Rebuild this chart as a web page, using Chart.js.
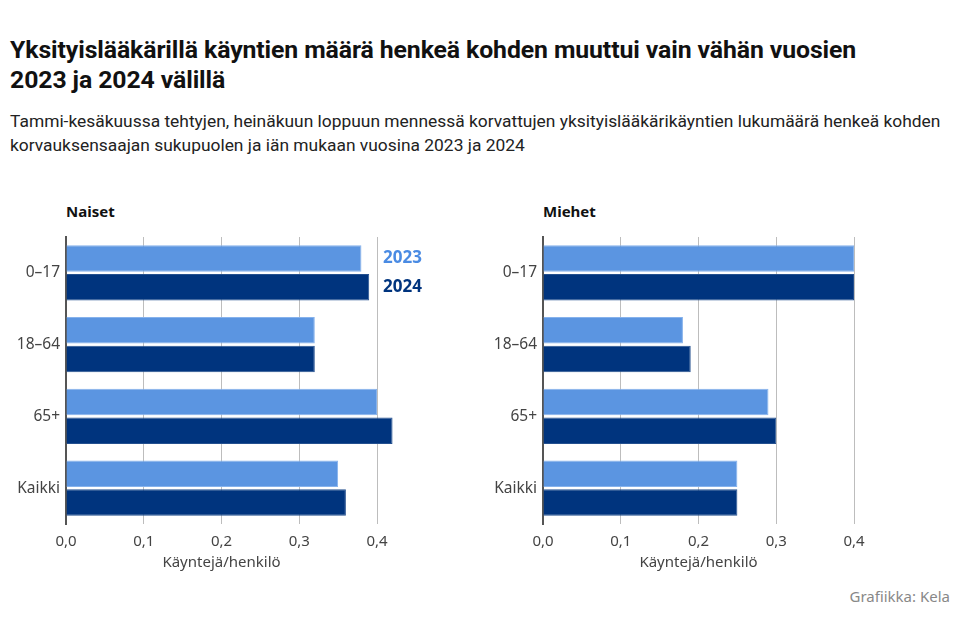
<!DOCTYPE html>
<html lang="fi">
<head>
<meta charset="utf-8">
<script src="https://cdn.jsdelivr.net/npm/chart.js@4"></script>
<style>
  body { margin: 0; width: 960px; height: 633px; background: #fff; position: relative; overflow: hidden; font-family: "Noto Sans", sans-serif; }
  #title { position: absolute; left: 10px; top: 35px; white-space: nowrap; font-family: "Roboto", sans-serif; font-weight: bold; font-size: 24.8px; line-height: 30px; color: #111; letter-spacing: -0.1px; }
  #subtitle { position: absolute; left: 10px; top: 109px; white-space: nowrap; font-family: "Roboto", sans-serif; font-size: 17.4px; line-height: 24px; color: #222; }
  .panel-head { position: absolute; top: 201px; font-weight: bold; font-size: 15px; color: #111; }
  .box { position: absolute; top: 195px; width: 480px; height: 377px; }
  #credit { position: absolute; right: 10px; top: 586px; font-size: 15px; color: #888; }
</style>
</head>
<body>
<div id="title">Yksityislääkärillä käyntien määrä henkeä kohden muuttui vain vähän vuosien<br>2023 ja 2024 välillä</div>
<div id="subtitle">Tammi-kesäkuussa tehtyjen, heinäkuun loppuun mennessä korvattujen yksityislääkärikäyntien lukumäärä henkeä kohden<br>korvauksensaajan sukupuolen ja iän mukaan vuosina 2023 ja 2024</div>
<div class="panel-head" style="left:66px">Naiset</div>
<div class="panel-head" style="left:543px">Miehet</div>
<div class="box" style="left:0"><canvas id="naisetChart"></canvas></div>
<div class="box" style="left:477px"><canvas id="miehetChart"></canvas></div>
<div id="credit">Grafiikka: Kela</div>
<script>
// data
const ageGroups = ['0–17', '18–64', '65+', 'Kaikki'];
const years = ['2023', '2024'];
const naiset2023 = [0.38, 0.32, 0.40, 0.35];
const naiset2024 = [0.39, 0.32, 0.42, 0.36];
const miehet2023 = [0.40, 0.18, 0.29, 0.25];
const miehet2024 = [0.40, 0.19, 0.30, 0.25];
const xTickLabels = ['0,0', '0,1', '0,2', '0,3', '0,4'];
const axisTitle = 'Käyntejä/henkilö';

const color2023 = '#5b95e1';
const color2024 = '#00347e';
const labelFont = '"Noto Sans", sans-serif';

// year labels next to the first bar pair (left panel only)
const yearLabels = {
    id: 'yearLabels',
    afterDatasetsDraw(chart) {
        const ctx = chart.ctx;
        const x = chart.scales.x.getPixelForValue(0.4) + 6;
        ctx.save();
        ctx.font = 'bold 17px ' + labelFont;
        ctx.textBaseline = 'middle';
        ctx.textAlign = 'left';
        [color2023, color2024].forEach((c, i) => {
            const bar = chart.getDatasetMeta(i).data[0];
            ctx.fillStyle = i === 0 ? '#4a8be3' : c;
            ctx.fillText(years[i], x, bar.y);
        });
        ctx.restore();
    }
};

function makeChart(id, d2023, d2024, withLabels) {
    const ctx = document.getElementById(id).getContext('2d');
    return new Chart(ctx, {
        type: 'bar',
        data: {
            labels: ageGroups,
            datasets: [{
                label: years[0],
                data: d2023,
                backgroundColor: color2023,
                borderColor: '#86b2ec',
                borderWidth: 1,
                clip: false
            }, {
                label: years[1],
                data: d2024,
                backgroundColor: color2024,
                borderColor: '#24508f',
                borderWidth: 1,
                clip: false
            }]
        },
        options: {
            indexAxis: 'y',
            responsive: true,
            maintainAspectRatio: false,
            animation: false,
            layout: { padding: { top: 42, right: 103, left: 0, bottom: 0 } },
            datasets: { bar: { categoryPercentage: 0.8, barPercentage: 0.92 } },
            plugins: { legend: { display: false }, tooltip: { enabled: false } },
            scales: {
                x: {
                    min: 0,
                    max: 0.4,
                    grid: { color: '#bdbdbd', lineWidth: 1, drawTicks: false },
                    border: { display: false },
                    ticks: {
                        stepSize: 0.1,
                        padding: 9,
                        color: '#444',
                        font: { family: labelFont, size: 15 },
                        callback: (v, i) => xTickLabels[i]
                    },
                    title: {
                        display: true,
                        text: axisTitle,
                        color: '#444',
                        font: { family: labelFont, size: 15 },
                        padding: { top: 4, bottom: 0 }
                    },
                    afterFit(scale) { scale.height = 48; }
                },
                y: {
                    grid: { display: false, drawTicks: false },
                    border: { display: true, color: '#555', width: 2 },
                    ticks: {
                        padding: 6,
                        color: '#444',
                        font: { family: labelFont, size: 15.5 }
                    },
                    afterFit(scale) { scale.width = 66; }
                }
            }
        },
        plugins: withLabels ? [yearLabels] : []
    });
}

makeChart('naisetChart', naiset2023, naiset2024, true);
makeChart('miehetChart', miehet2023, miehet2024, false);
</script>
</body>
</html>
